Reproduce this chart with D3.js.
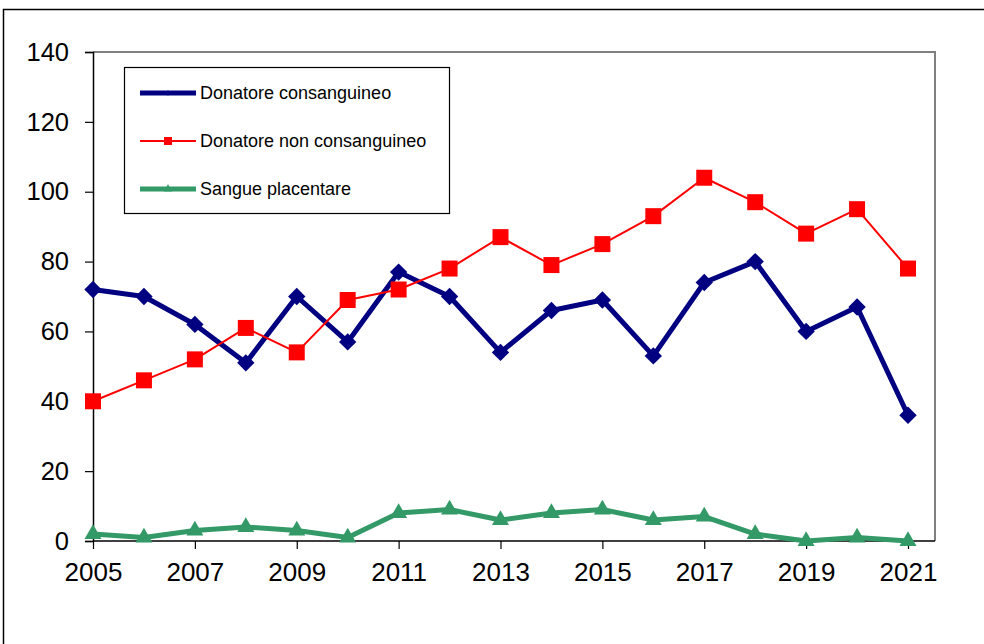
<!DOCTYPE html>
<html><head><meta charset="utf-8">
<script src="https://cdn.jsdelivr.net/npm/d3@7"></script>
<style>body{margin:0;background:#fff}svg{display:block}</style>
</head><body>
<svg id="c" width="984" height="644"></svg>
<script>
const years = [2005,2006,2007,2008,2009,2010,2011,2012,2013,2014,2015,2016,2017,2018,2019,2020,2021];
const consanguineo = [72,70,62,51,70,57,77,70,54,66,69,53,74,80,60,67,36];
const nonConsanguineo = [40,46,52,61,54,69,72,78,87,79,85,93,104,97,88,95,78];
const placentare = [2,1,3,4,3,1,8,9,6,8,9,6,7,2,0,1,0];
const yTicks = [0,20,40,60,80,100,120,140];
const xTicks = [2005,2007,2009,2011,2013,2015,2017,2019,2021];
const seriesNames = ["Donatore consanguineo","Donatore non consanguineo","Sangue placentare"];

const svg = d3.select("#c");
const font = "'Liberation Sans', Arial, sans-serif";
// outer frame
svg.append("rect").attr("x",3.5).attr("y",9.5).attr("width",1000).attr("height",700)
  .attr("fill","none").attr("stroke","#000").attr("stroke-width",1.5);

const L=93, R=935, T=52, B=541;
const x = d3.scaleLinear().domain([2005,2021]).range([L,908]);
const y = d3.scaleLinear().domain([0,140]).range([B,T]);

// plot border (gray top/right)
svg.append("path").attr("d",`M${L},${T}H${R}V${B}`).attr("fill","none").attr("stroke","#808080").attr("stroke-width",2);

// axes
const ya = svg.append("g").attr("transform",`translate(${L},0)`)
  .call(d3.axisLeft(y).tickValues(yTicks).tickSize(8).tickPadding(16));
ya.select(".domain").attr("stroke","#000").attr("stroke-width",1.5);
ya.selectAll(".tick line").attr("stroke","#000").attr("stroke-width",1.2);
ya.selectAll("text").attr("font-family",font).attr("font-size",25.5).attr("fill","#000");

const xa = svg.append("g").attr("transform",`translate(0,${B})`)
  .call(d3.axisBottom(x).tickValues(xTicks).tickFormat(d3.format("d")).tickSize(8).tickPadding(14));
xa.select(".domain").attr("d",`M${L},0H${R}`).attr("stroke","#000").attr("stroke-width",1.5);
xa.selectAll(".tick line").attr("stroke","#000").attr("stroke-width",1.2);
xa.selectAll("text").attr("font-family",font).attr("font-size",26).attr("fill","#000");

const series = [
  {name:seriesNames[0], vals:consanguineo, color:"#000080", w:5, sym:d3.symbolSquare, rot:45, size:150, lsize:14},
  {name:seriesNames[1], vals:nonConsanguineo, color:"#FF0000", w:2, sym:d3.symbolSquare, rot:0, size:256, lsize:64},
  {name:seriesNames[2], vals:placentare, color:"#339966", w:5, sym:d3.symbolTriangle, rot:0, size:125, lsize:30}
];
const line = d3.line().x((d,i)=>x(years[i])).y(d=>y(d));
series.forEach(s=>{
  svg.append("path").datum(s.vals).attr("d",line).attr("fill","none")
    .attr("stroke",s.color).attr("stroke-width",s.w).attr("stroke-linejoin","round");
  svg.append("g").selectAll("path").data(s.vals).join("path")
    .attr("transform",(d,i)=>`translate(${x(years[i])},${y(d)}) rotate(${s.rot})`)
    .attr("d",d3.symbol(s.sym,s.size)).attr("fill",s.color);
});

// legend
const lg = svg.append("g");
lg.append("rect").attr("x",124.5).attr("y",67.5).attr("width",325).attr("height",146)
  .attr("fill","#fff").attr("stroke","#000").attr("stroke-width",1.2);
series.forEach((s,i)=>{
  const cy = 93 + i*48;
  lg.append("line").attr("x1",140).attr("x2",196).attr("y1",cy).attr("y2",cy)
    .attr("stroke",s.color).attr("stroke-width",s.w);
  lg.append("path").attr("transform",`translate(168,${cy}) rotate(${s.rot})`).attr("d",d3.symbol(s.sym,s.lsize)).attr("fill",s.color);
  lg.append("text").attr("x",200).attr("y",cy).attr("dy","0.35em").attr("font-family",font)
    .attr("font-size",18).attr("fill","#000").text(s.name);
});
</script>
</body></html>
